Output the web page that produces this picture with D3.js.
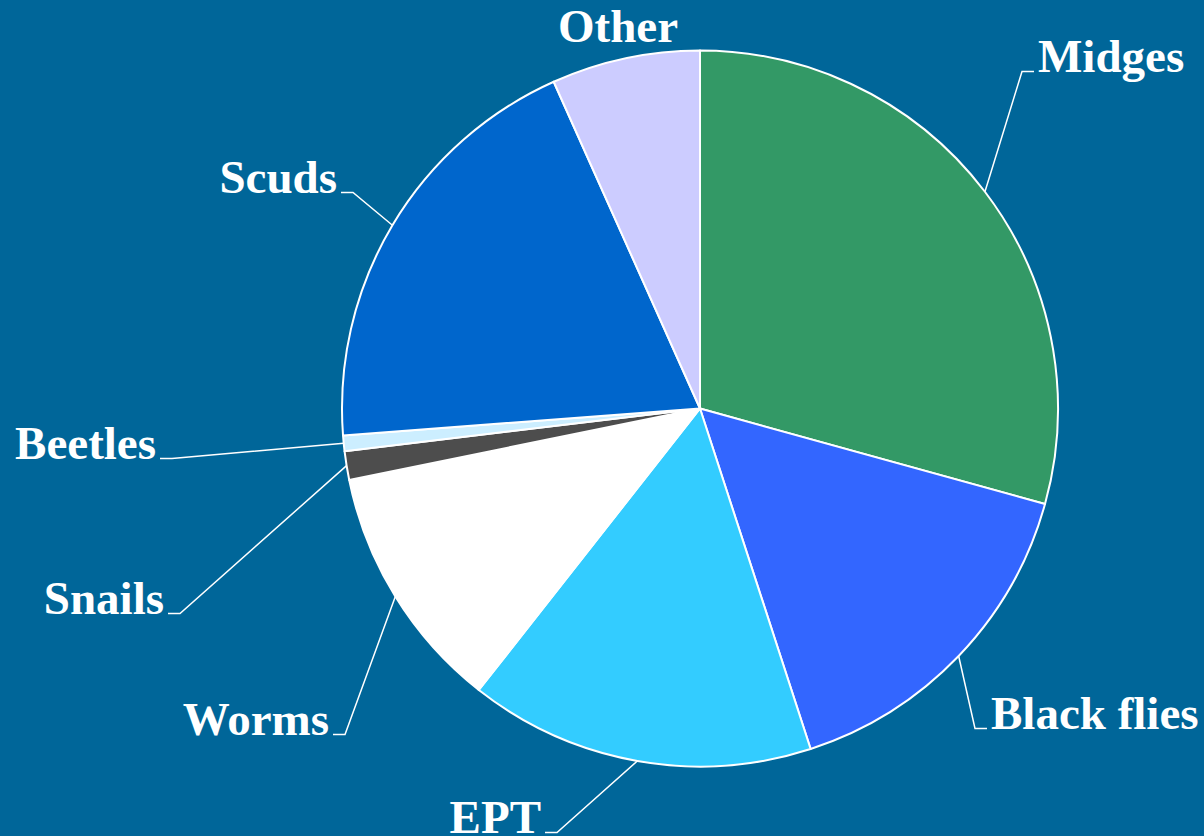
<!DOCTYPE html>
<html>
<head>
<meta charset="utf-8">
<script src="https://cdn.jsdelivr.net/npm/d3@7"></script>
<style>
  body { margin: 0; background: #006699; }
  svg { display: block; }
</style>
</head>
<body>
<div id="chart"></div>
<script>
// Data (share of the sample, %)
const categories = ["Midges", "Black flies", "EPT", "Worms", "Snails", "Beetles", "Scuds", "Other"];
const values = [29.3, 15.7, 15.6, 11.2, 1.3, 0.7, 19.5, 6.7];
const colors = ["#339966", "#3366ff", "#33ccff", "#ffffff", "#4d4d4d", "#cceeff", "#0066cc", "#ccccff"];

// Label layout: elbow of the leader line relative to the pie centre, and side of the text
const labelElbow = [[322, -337], [275, 320], [-143, 424], [-355, 326], [-520, 205], [-528, 50], [-347, -216], [-82, -367]];
const labelSide = ["right", "right", "left", "left", "left", "left", "left", "top"];

const width = 1204, height = 836;
const cx = 700, cy = 408.5, radius = 358;

const svg = d3.select("#chart")
  .append("svg")
  .attr("width", width)
  .attr("height", height);

svg.append("rect")
  .attr("width", width)
  .attr("height", height)
  .attr("fill", "#006699");

const data = categories.map((c, i) => ({ name: c, value: values[i], color: colors[i], i: i }));

const pie = d3.pie().sort(null).value(d => d.value);
const arcs = pie(data);

const arc = d3.arc().innerRadius(0).outerRadius(radius);

const g = svg.append("g").attr("transform", `translate(${cx},${cy})`);

g.selectAll("path.slice")
  .data(arcs)
  .join("path")
  .attr("class", "slice")
  .attr("d", arc)
  .attr("fill", d => d.data.color)
  .attr("stroke", "#ffffff")
  .attr("stroke-width", 2)
  .attr("stroke-linejoin", "round");

// Leader lines and labels
arcs.forEach(d => {
  const i = d.data.i;
  const mid = (d.startAngle + d.endAngle) / 2;
  const px = radius * Math.sin(mid), py = -radius * Math.cos(mid);
  const [ex, ey] = labelElbow[i];
  const side = labelSide[i];

  if (side === "top") {
    g.append("text")
      .attr("x", ex)
      .attr("y", ey)
      .attr("text-anchor", "middle")
      .attr("fill", "#ffffff")
      .style("font-family", "'Liberation Serif', 'Times New Roman', serif")
      .style("font-weight", "bold")
      .style("font-size", "47px")
      .text(d.data.name);
    return;
  }

  const dir = side === "right" ? 1 : -1;
  g.append("polyline")
    .attr("points", `${px},${py} ${ex},${ey} ${ex + dir * 12},${ey}`)
    .attr("fill", "none")
    .attr("stroke", "#ffffff")
    .attr("stroke-width", 1.5);

  g.append("text")
    .attr("x", ex + dir * 16)
    .attr("y", ey)
    .attr("text-anchor", side === "right" ? "start" : "end")
    .attr("fill", "#ffffff")
    .style("font-family", "'Liberation Serif', 'Times New Roman', serif")
    .style("font-weight", "bold")
    .style("font-size", "47px")
    .text(d.data.name);
});
</script>
</body>
</html>
